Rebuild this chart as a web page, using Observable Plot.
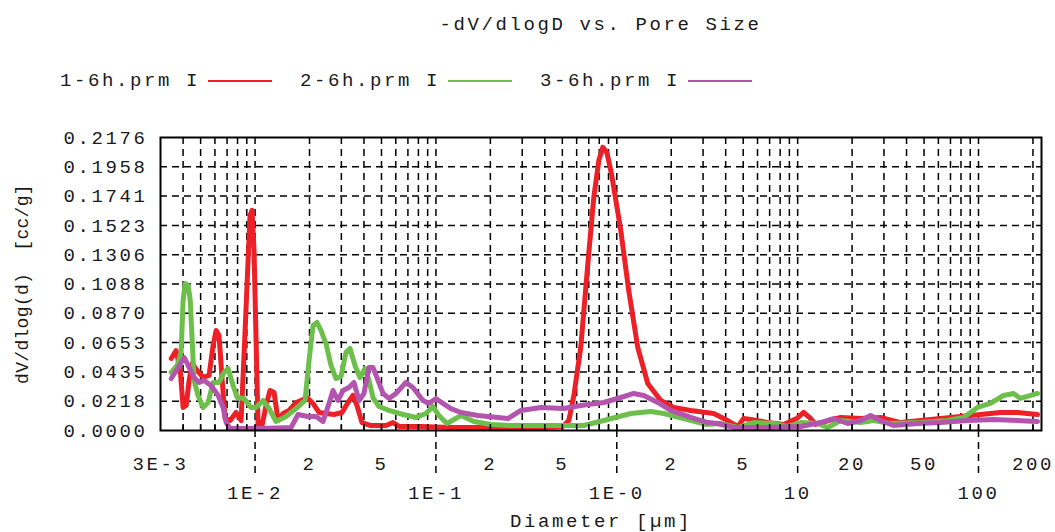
<!DOCTYPE html>
<html><head><meta charset="utf-8">
<script src="https://cdn.jsdelivr.net/npm/d3@7"></script>
<script src="https://cdn.jsdelivr.net/npm/@observablehq/plot@0.6"></script>
<style>
body{margin:0;background:#fff;font-family:'Liberation Mono','DejaVu Sans Mono',monospace;color:#1a1a1a;}
#wrap{position:relative;width:1055px;height:532px;overflow:hidden;}
#title{position:absolute;left:160px;width:881px;top:10px;line-height:30px;text-align:center;font-size:19px;letter-spacing:2.6px;}
#legend{position:absolute;left:60px;top:66px;line-height:30px;font-size:19px;letter-spacing:2.6px;display:flex;gap:28px;white-space:pre;}
.item{display:flex;align-items:center;gap:8px;}
.sw{width:64px;height:2.5px;}
#chart{position:absolute;left:0;top:100px;}
#chart svg text{letter-spacing:2.6px;}
</style></head>
<body><div id="wrap"><div id="title"></div><div id="legend"></div><div id="chart"></div></div>
<script>
const titleText = "-dV/dlogD vs. Pore Size";
const seriesNames = ["1-6h.prm I", "2-6h.prm I", "3-6h.prm I"];
const seriesColors = ["#ee2027", "#6dbf4b", "#b354ae"];
const xLabel = "Diameter [µm]";
const yLabel = "dV/dlog(d)  [cc/g]";

// [diameter µm, dV/dlogD cc/g]
const series1 = [[0.00344,0.0535],[0.00366,0.0594],[0.00386,0.0446],[0.00400,0.0171],[0.00416,0.0186],[0.00432,0.0372],[0.00449,0.0498],[0.00478,0.0446],[0.00516,0.0394],[0.00557,0.0409],[0.00586,0.0632],[0.00609,0.0743],[0.00632,0.0706],[0.00658,0.0372],[0.00683,0.0089],[0.00728,0.0074],[0.00785,0.0134],[0.00837,0.0074],[0.00881,0.0743],[0.00915,0.1263],[0.00938,0.1597],[0.00962,0.1635],[0.00987,0.1337],[0.01013,0.0669],[0.01039,0.0037],[0.01093,0.0037],[0.01150,0.0186],[0.01210,0.0297],[0.01274,0.0282],[0.01340,0.0074],[0.01428,0.0126],[0.01541,0.0149],[0.01685,0.0208],[0.01795,0.0223],[0.01938,0.0245],[0.02091,0.0201],[0.02257,0.0134],[0.02466,0.0126],[0.02732,0.0119],[0.03025,0.0134],[0.03265,0.0208],[0.03479,0.0260],[0.0366,0.0186],[0.0390,0.0059],[0.0437,0.0037],[0.0529,0.0037],[0.0579,0.0059],[0.0625,0.0030],[0.0826,0.0030],[0.121,0.0022],[0.229,0.0022],[0.380,0.0022],[0.503,0.0030],[0.543,0.0074],[0.579,0.0260],[0.632,0.0617],[0.692,0.1241],[0.746,0.1731],[0.796,0.2006],[0.837,0.2103],[0.881,0.2066],[0.938,0.1895],[1.052,0.1486],[1.164,0.1040],[1.306,0.0617],[1.483,0.0349],[1.750,0.0223],[2.066,0.0171],[2.564,0.0149],[3.436,0.0126],[4.10,0.0074],[4.66,0.0030],[5.03,0.0089],[5.50,0.0082],[6.82,0.0059],[8.37,0.0045],[9.87,0.0089],[10.79,0.0134],[11.80,0.0089],[12.58,0.0045],[14.83,0.0074],[17.29,0.0097],[22.3,0.0089],[28.7,0.0097],[37.1,0.0059],[47.8,0.0074],[61.7,0.0089],[79.6,0.0104],[102.6,0.0119],[132.3,0.0134],[164.3,0.0134],[212,0.0119]];
const series2 = [[0.00344,0.0431],[0.00371,0.0483],[0.00390,0.0580],[0.00400,0.0966],[0.00411,0.1092],[0.00427,0.1077],[0.00438,0.0966],[0.00449,0.0669],[0.00460,0.0372],[0.00484,0.0260],[0.00516,0.0171],[0.00550,0.0208],[0.00586,0.0357],[0.00632,0.0357],[0.00674,0.0431],[0.00709,0.0461],[0.00756,0.0334],[0.00796,0.0245],[0.00870,0.0238],[0.00950,0.0171],[0.01013,0.0171],[0.01107,0.0223],[0.01195,0.0163],[0.01306,0.0067],[0.01483,0.0104],[0.01685,0.0163],[0.01889,0.0223],[0.01988,0.0520],[0.02091,0.0780],[0.02200,0.0802],[0.02315,0.0743],[0.02466,0.0646],[0.02630,0.0483],[0.02802,0.0386],[0.02987,0.0401],[0.03183,0.0580],[0.03349,0.0609],[0.03568,0.0483],[0.03802,0.0394],[0.04052,0.0461],[0.04265,0.0372],[0.04487,0.0245],[0.04842,0.0178],[0.05500,0.0149],[0.06573,0.0119],[0.07758,0.0097],[0.08810,0.0126],[0.09625,0.0178],[0.1039,0.0111],[0.1150,0.0052],[0.1374,0.0111],[0.1622,0.0067],[0.2013,0.0045],[0.2597,0.0037],[0.432,0.0037],[0.657,0.0037],[0.847,0.0074],[1.195,0.0126],[1.541,0.0141],[1.818,0.0126],[2.344,0.0089],[3.10,0.0045],[3.755,0.0052],[4.66,0.0022],[5.71,0.0059],[7.37,0.0052],[8.81,0.0030],[10.39,0.0059],[12.90,0.0052],[14.65,0.0022],[17.29,0.0074],[22.3,0.0059],[26.3,0.0074],[32.7,0.0052],[47.8,0.0059],[67.4,0.0074],[82.6,0.0097],[98.7,0.0171],[116.4,0.0201],[137.4,0.0260],[156.1,0.0275],[170.6,0.0238],[212,0.0275]];
const series3 = [[0.00344,0.0386],[0.00376,0.0468],[0.00406,0.0542],[0.00432,0.0468],[0.00460,0.0394],[0.00491,0.0357],[0.00523,0.0372],[0.00571,0.0334],[0.00625,0.0260],[0.00666,0.0171],[0.00692,0.0059],[0.00728,0.0015],[0.01079,0.0015],[0.01581,0.0022],[0.01728,0.0119],[0.01962,0.0104],[0.02173,0.0104],[0.02375,0.0067],[0.02564,0.0201],[0.02698,0.0297],[0.02874,0.0223],[0.03063,0.0297],[0.03304,0.0319],[0.03522,0.0357],[0.03755,0.0223],[0.0400,0.0275],[0.04265,0.0468],[0.04487,0.0468],[0.04783,0.0372],[0.05097,0.0275],[0.05500,0.0238],[0.06012,0.0275],[0.06826,0.0357],[0.07460,0.0319],[0.08476,0.0223],[0.09148,0.0201],[0.1,0.0238],[0.1093,0.0201],[0.1210,0.0163],[0.1374,0.0134],[0.1706,0.0111],[0.2200,0.0097],[0.2499,0.0089],[0.2949,0.0149],[0.380,0.0171],[0.5096,0.0163],[0.632,0.0186],[0.847,0.0208],[1.052,0.0245],[1.241,0.0275],[1.410,0.0260],[1.685,0.0208],[1.987,0.0149],[2.564,0.0097],[3.183,0.0059],[3.614,0.0052],[4.43,0.0022],[6.82,0.0022],[10.39,0.0030],[13.40,0.0059],[15.81,0.0089],[18.89,0.0052],[22.3,0.0074],[25.3,0.0111],[28.7,0.0074],[33.9,0.0037],[46.0,0.0052],[61.7,0.0059],[86.9,0.0074],[121.1,0.0082],[212,0.0067]];

const yTicks = [0, 0.0218, 0.0435, 0.0653, 0.0870, 0.1088, 0.1306, 0.1523, 0.1741, 0.1958, 0.2176];
const minorTickValues = [0.003, 0.02, 0.05, 0.2, 0.5, 2, 5, 20, 50, 200];
const minorTickLabels = ["3E-3", "2", "5", "2", "5", "2", "5", "20", "50", "200"];
const majorTickValues = [0.01, 0.1, 1, 10, 100];
const majorTickLabels = ["1E-2", "1E-1", "1E-0", "10", "100"];
const xDomain = [0.003, 223];

// gridline positions: every 1..9 × decade inside the domain
const gridX = [];
for (let e = -3; e <= 2; e++) for (let m = 1; m <= 9; m++) {
  const v = m * Math.pow(10, e);
  if (v > xDomain[0] * 1.0001 && v < xDomain[1]) gridX.push(+v.toPrecision(3));
}
const minorTicks = minorTickValues.map((v, i) => ({v, label: minorTickLabels[i]}));
const majorTicks = majorTickValues.map((v, i) => ({v, label: majorTickLabels[i]}));

document.getElementById("title").textContent = titleText;
const legend = document.getElementById("legend");
seriesNames.forEach((n, i) => {
  const it = document.createElement("div"); it.className = "item";
  const t = document.createElement("span"); t.textContent = n;
  const s = document.createElement("span"); s.className = "sw"; s.style.background = seriesColors[i];
  it.appendChild(t); it.appendChild(s); legend.appendChild(it);
});

const dash = "7,5";
const lineOpts = (i) => ({x: d => d[0], y: d => d[1], stroke: seriesColors[i], strokeWidth: 5, strokeLinejoin: "round", strokeLinecap: "round"});

const chart = Plot.plot({
  width: 1055, height: 432,
  marginLeft: 160, marginRight: 14, marginTop: 37, marginBottom: 102,
  style: {fontFamily: "'Liberation Mono','DejaVu Sans Mono',monospace", fontSize: "19px", color: "#1a1a1a", background: "transparent", overflow: "visible"},
  x: {type: "log", domain: xDomain, axis: null},
  y: {domain: [0, 0.2176], axis: null},
  marks: [
    Plot.ruleX(gridX, {x: d => d, stroke: "#000", strokeWidth: 1.5, strokeDasharray: dash}),
    Plot.ruleY(yTicks.slice(1, -1), {y: d => d, stroke: "#000", strokeWidth: 1.5, strokeDasharray: dash}),
    Plot.line(series1, lineOpts(0)),
    Plot.line(series2, lineOpts(1)),
    Plot.line(series3, lineOpts(2)),
    Plot.frame({stroke: "#000", strokeWidth: 2}),
    Plot.ruleX(gridX, {x: d => d, y1: 0, y2: 0, insetBottom: 6, stroke: "#000", strokeWidth: 1.5}),
    Plot.ruleX(majorTickValues, {x: d => d, y1: 0, y2: 0, insetBottom: -45, stroke: "#000", strokeWidth: 1.5, strokeDasharray: dash}),
    Plot.axisY(yTicks, {anchor: "left", tickSize: 0, tickPadding: 13, tickFormat: d => d.toFixed(4), label: null}),
    Plot.text(minorTicks, {x: "v", text: "label", frameAnchor: "bottom", dy: 33, textAnchor: "middle", lineAnchor: "middle"}),
    Plot.text(majorTicks, {x: "v", text: "label", frameAnchor: "bottom", dy: 62, textAnchor: "middle", lineAnchor: "middle"}),
    Plot.text([yLabel], {frameAnchor: "left", dx: -138, rotate: -90, textAnchor: "middle", lineAnchor: "middle", fontSize: 18}),
    Plot.text([xLabel], {frameAnchor: "bottom", dy: 90, textAnchor: "middle", lineAnchor: "middle"})
  ]
});
chart.querySelectorAll("text").forEach(t => { if (t.textContent === yLabel) t.style.letterSpacing = "0.3px"; });
document.getElementById("chart").appendChild(chart);
</script></body></html>
